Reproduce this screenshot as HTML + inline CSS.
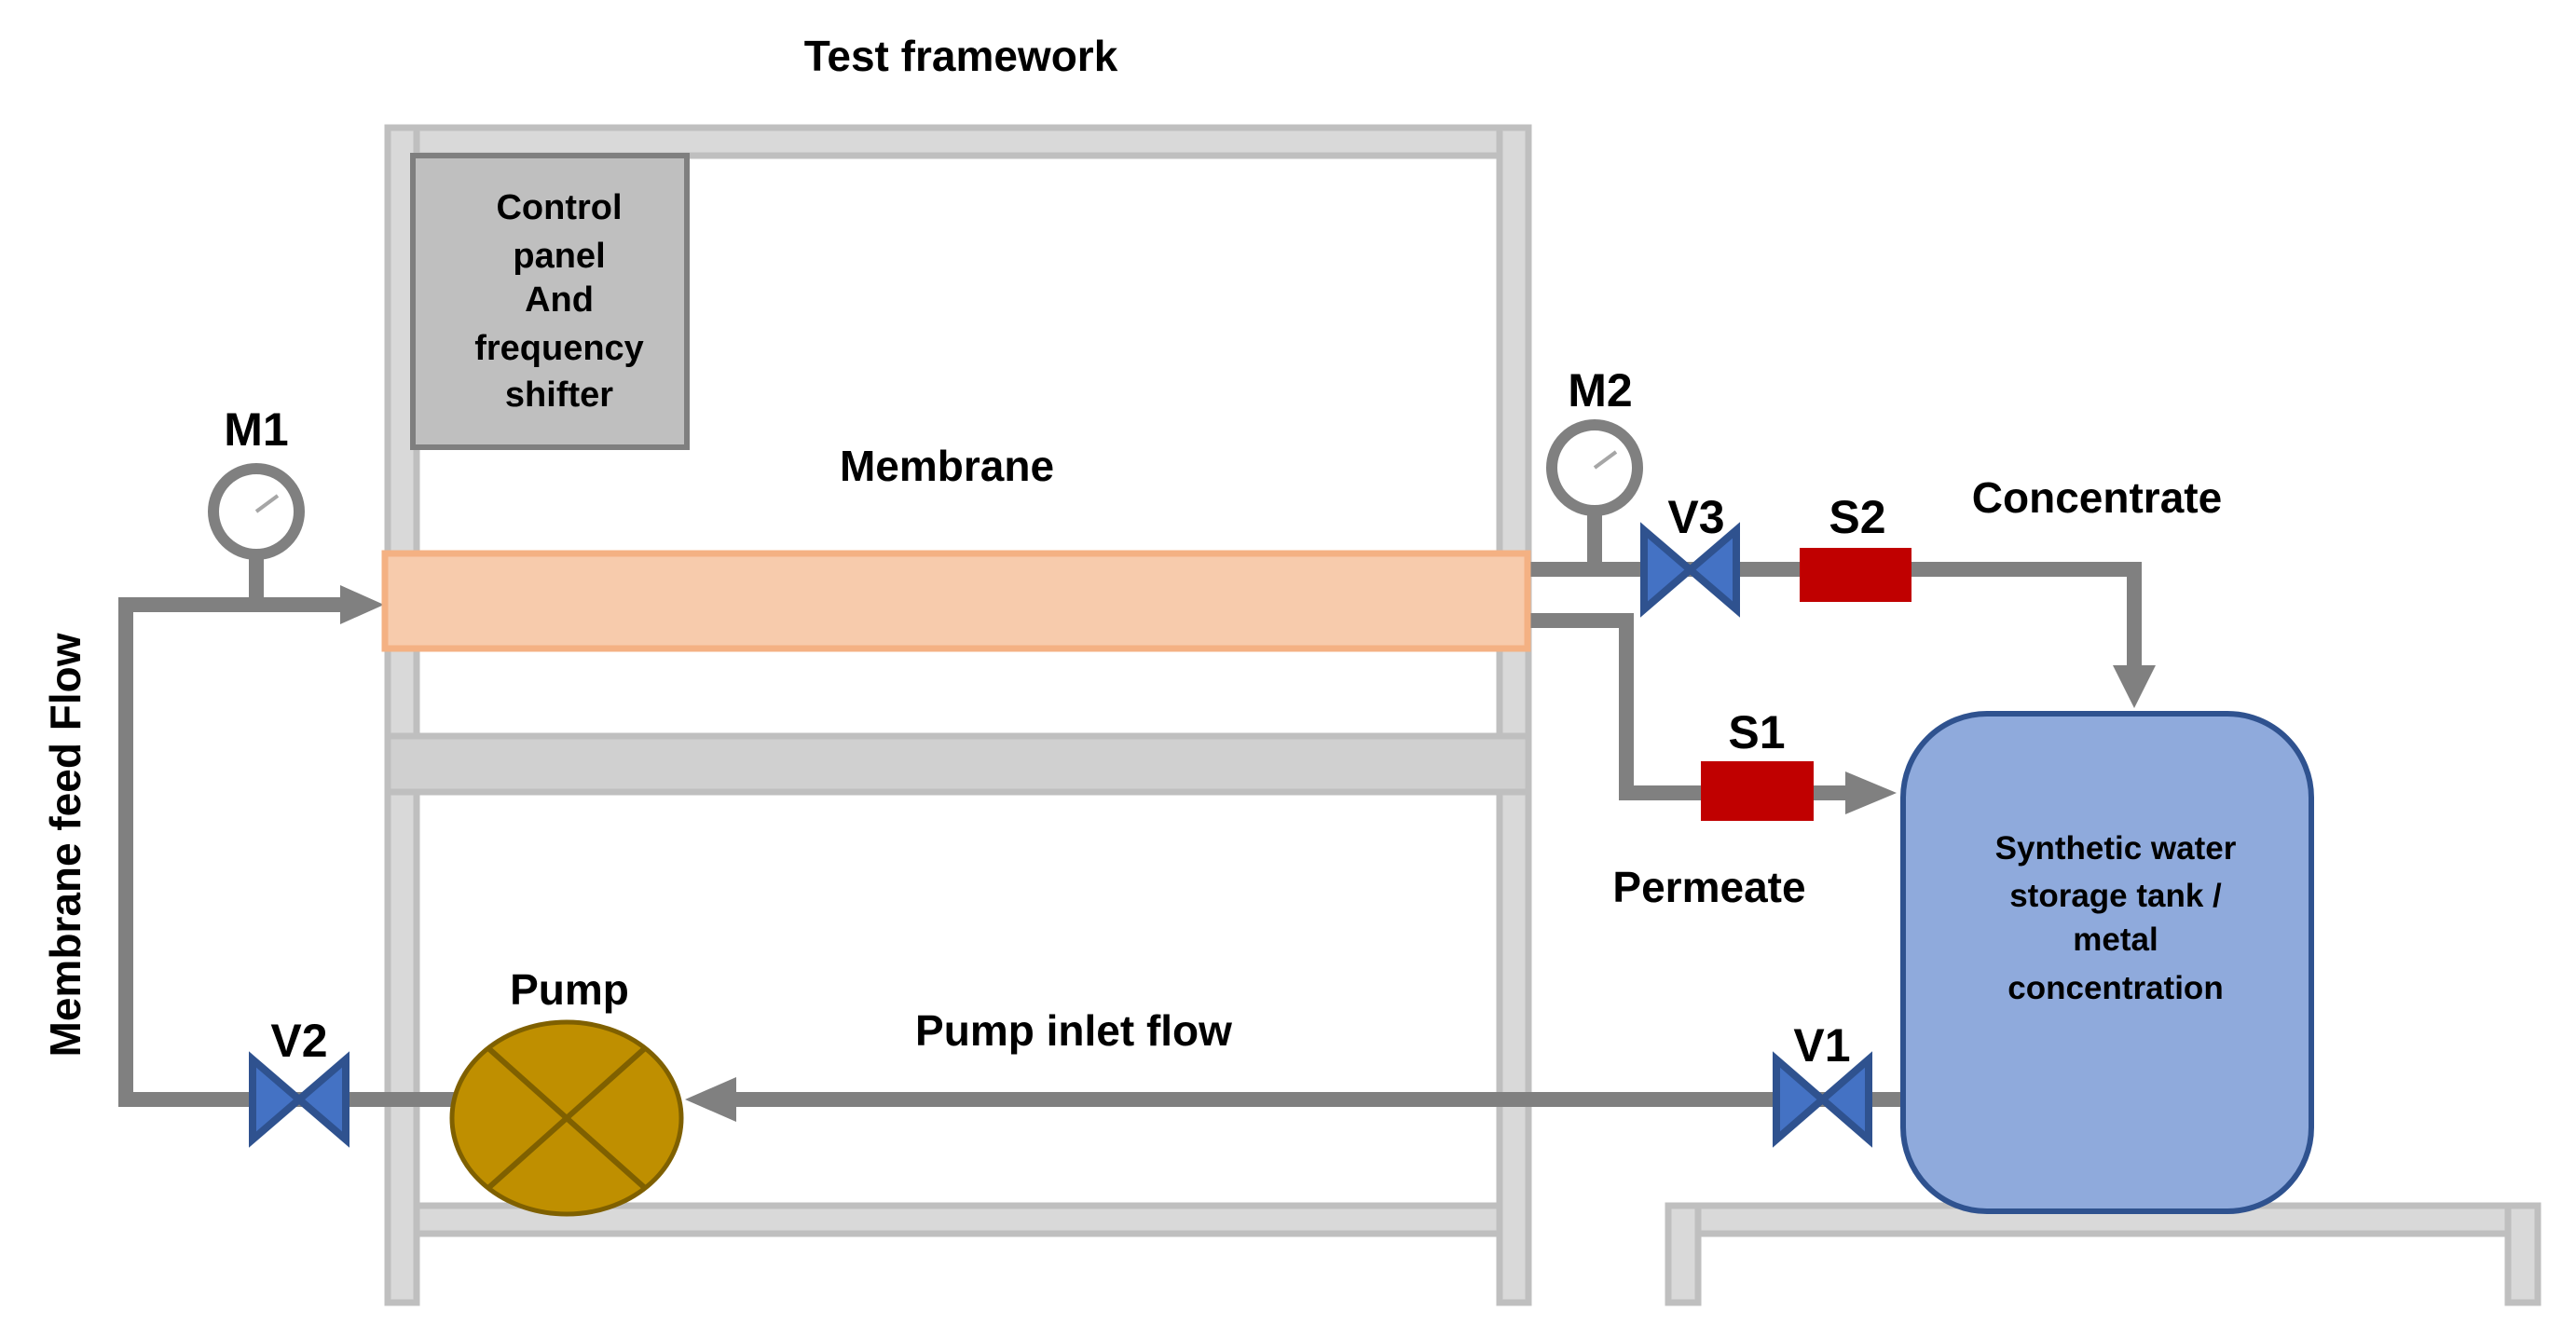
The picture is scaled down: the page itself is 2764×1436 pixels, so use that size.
<!DOCTYPE html>
<html><head><meta charset="utf-8"><style>
html,body{margin:0;padding:0;background:#fff}
svg{display:block}
text{font-family:"Liberation Sans",Arial,sans-serif;fill:#000}
</style></head><body>
<svg width="2764" height="1436" viewBox="0 0 2764 1436" xmlns="http://www.w3.org/2000/svg">
<g fill="#d9d9d9" stroke="#bfbfbf" stroke-width="7">
<rect x="416" y="137" width="1224" height="30"/>
<rect x="416" y="137" width="31" height="1261"/>
<rect x="1609" y="137" width="31" height="1261"/>
<rect x="416" y="790" width="1224" height="60" fill="#d0d0d0"/>
<rect x="447" y="1294" width="1162" height="30"/>
<rect x="1790" y="1294" width="933" height="30"/>
<rect x="1790" y="1294" width="32" height="104"/>
<rect x="2691" y="1294" width="32" height="104"/>
</g>
<rect x="443" y="167" width="294" height="313" fill="#bfbfbf" stroke="#7f7f7f" stroke-width="6"/>
<g font-size="38" text-anchor="middle" font-weight="bold" fill="#111">
<text x="600" y="235">Control</text>
<text x="600" y="287">panel</text>
<text x="600" y="334">And</text>
<text x="600" y="386">frequency</text>
<text x="600" y="436">shifter</text>
</g>
<g stroke="#808080" stroke-width="16" fill="none">
<polyline points="360,1180 135,1180 135,649 380,649"/>
<line x1="275" y1="649" x2="275" y2="590"/>
<polyline points="1636,611 2290,611 2290,720"/>
<line x1="1711" y1="611" x2="1711" y2="550"/>
<polyline points="1636,666 1745,666 1745,851 1985,851"/>
<line x1="2040" y1="1180" x2="790" y2="1180"/>
<line x1="370" y1="1180" x2="490" y2="1180"/>
</g>
<g fill="#808080">
<polygon points="365,628 412,649 365,670"/>
<polygon points="2267,714 2313,714 2290,760"/>
<polygon points="1980,828 2035,851 1980,874"/>
<polygon points="790,1156 735,1180 790,1204"/>
</g>
<rect x="413" y="594" width="1226" height="102" fill="#f7cbac" stroke="#f4b183" stroke-width="7"/>
<g fill="#fff" stroke="#808080" stroke-width="12">
<circle cx="275" cy="549" r="46"/>
<circle cx="1711" cy="502" r="46"/>
</g>
<g stroke="#a6a6a6" stroke-width="4">
<line x1="275" y1="549" x2="298" y2="532"/>
<line x1="1711" y1="502" x2="1734" y2="485"/>
</g>
<g fill="#4472c4" stroke="#2f528f" stroke-width="8">
<polygon points="271,1137 371,1223 371,1137 271,1223"/>
<polygon points="1764,569 1863,654 1863,569 1764,654"/>
<polygon points="1906,1137 2005,1223 2005,1137 1906,1223"/>
</g>
<rect x="1931" y="588" width="120" height="58" fill="#c00000"/>
<rect x="1825" y="817" width="121" height="64" fill="#c00000"/>
<ellipse cx="608" cy="1200" rx="123" ry="103" fill="#bf8f00" stroke="#7f6000" stroke-width="5"/>
<g stroke="#7f6000" stroke-width="6">
<line x1="524" y1="1125" x2="692" y2="1275"/>
<line x1="692" y1="1125" x2="524" y2="1275"/>
</g>
<rect x="2042" y="766" width="438" height="534" rx="90" ry="90" fill="#8faadc" stroke="#2f528f" stroke-width="6"/>
<g font-size="35" text-anchor="middle" font-weight="bold" fill="#111">
<text x="2270" y="922">Synthetic water</text>
<text x="2270" y="973">storage tank /</text>
<text x="2270" y="1020">metal</text>
<text x="2270" y="1072">concentration</text>
</g>
<g font-size="46" text-anchor="middle" font-weight="bold" fill="#111">
<text x="1031" y="76">Test framework</text>
<text x="1016" y="516">Membrane</text>
<text x="2250" y="550">Concentrate</text>
<text x="1834" y="968">Permeate</text>
<text x="1152" y="1122">Pump inlet flow</text>
<text x="611" y="1078">Pump</text>
<text x="0" y="0" transform="translate(86,907) rotate(-90)">Membrane feed Flow</text>
</g>
<g font-size="50" text-anchor="middle" font-weight="bold">
<text x="275" y="478">M1</text>
<text x="1717" y="436">M2</text>
<text x="1820" y="572">V3</text>
<text x="1993" y="572">S2</text>
<text x="1885" y="803">S1</text>
<text x="321" y="1134">V2</text>
<text x="1955" y="1139">V1</text>
</g>
</svg>
</body></html>
